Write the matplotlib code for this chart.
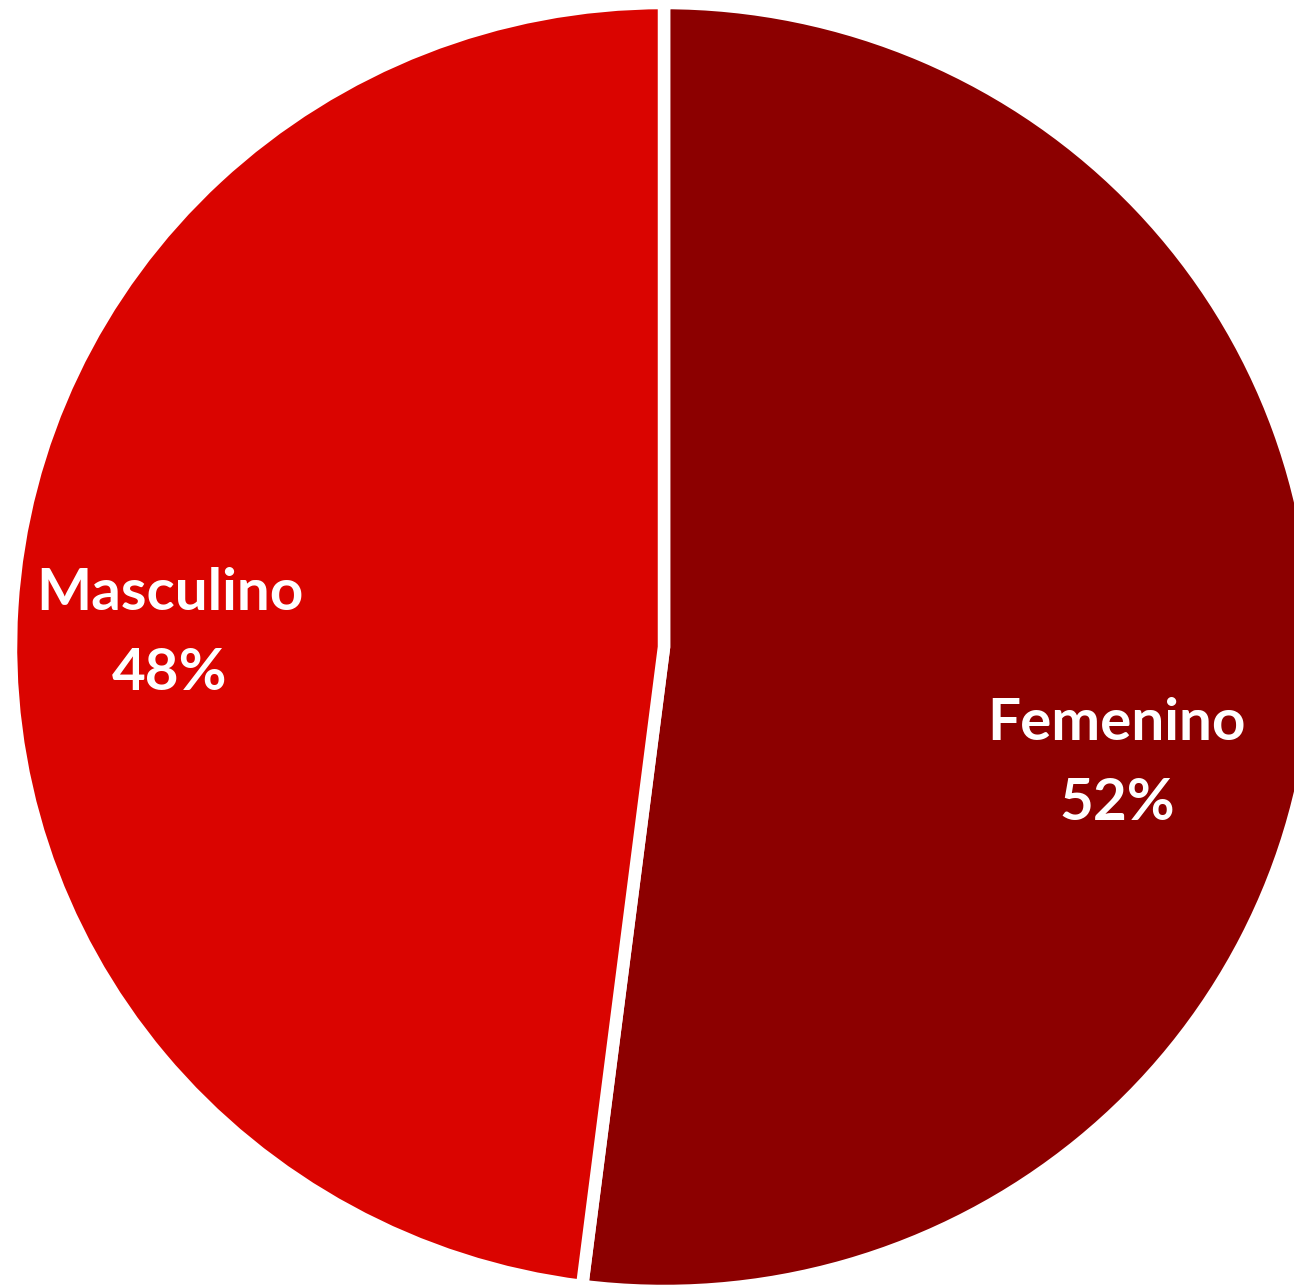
import matplotlib
matplotlib.use("Agg")
import matplotlib.pyplot as plt

# Gender split
categories = ["Femenino", "Masculino"]
shares = [52, 48]
colors = ["#8C0000", "#DA0400"]

W, H, DPI = 1294, 1287, 100
fig = plt.figure(figsize=(W / DPI, H / DPI), dpi=DPI)
ax = fig.add_axes([0, 0, 1, 1])

wedges, _ = ax.pie(
    shares,
    colors=colors,
    startangle=90,
    counterclock=False,
    wedgeprops=dict(edgecolor="white", linewidth=9),
)

# Slightly wide ellipse, clipped at the right and bottom of the canvas
ax.set_aspect("auto")
ax.set_xlim(-664 / 653, (W - 664) / 653)
ax.set_ylim(-(H - 647) / 644, 647 / 644)
ax.axis("off")

font = dict(family=["Lato", "DejaVu Sans"], weight="bold", color="white",
            fontsize=42, ha="center", va="baseline")

label_pos = {
    "Femenino": (1117, 740, 820),
    "Masculino": (170, 610, 690),
}
for cat, val in zip(categories, shares):
    px, y1, y2 = label_pos[cat]
    fig.text(px / W, 1 - y1 / H, cat, **font)
    fig.text(px / W, 1 - y2 / H, f"{val}%", **font)

fig.savefig("out.png", dpi=DPI)
